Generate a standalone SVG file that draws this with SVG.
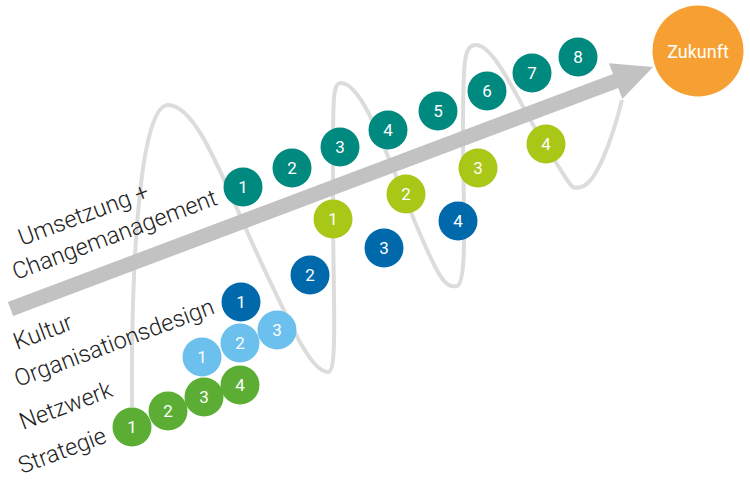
<svg xmlns="http://www.w3.org/2000/svg" width="750" height="494" viewBox="0 0 750 494">
<style>
.lbl{font-family:Roboto,"Liberation Sans",sans-serif;font-weight:300;font-size:23.5px;fill:#222222}
.num{font-family:Roboto,"Liberation Sans",sans-serif;font-size:17px;fill:#ffffff;text-anchor:middle;dominant-baseline:central}
.teal{fill:#00897f}.lime{fill:#a9c716}.dblue{fill:#0069ac}.lblue{fill:#6bc0ed}.green{fill:#5bae33}
</style>
<rect width="750" height="494" fill="#ffffff"/>
<g id="connectors">
<path id="wave" d="M132,407 C131,260 140,105 168,105 C198,105 225,185 260,260 S312,372 328,372 C338,372 333,300 333,200 S332,83 341,83 C362,83 385,150 412,215 S445,288 457,286 C468,283 463,200 463,130 S464,45 476,45 C496,45 522,110 548,150 S570,189 581,187 C596,184 612,140 622,100" fill="none" stroke="#dcdcdc" stroke-width="4"/>
<g id="arrow">
<line x1="10.5" y1="309" x2="617" y2="80.5" stroke="#c2c2c2" stroke-width="15"/>
<polygon points="653,67 608.9,63.3 622.3,98.9" fill="#c2c2c2"/>
</g>
</g>
<g id="labels">
<text class="lbl" transform="translate(22,246) rotate(-20.5)">Umsetzung +</text>
<text class="lbl" transform="translate(16,280) rotate(-20.5)">Changemanagement</text>
<text class="lbl" transform="translate(17,350) rotate(-20.5)">Kultur</text>
<text class="lbl" transform="translate(18,387) rotate(-20.5)">Organisationsdesign</text>
<text class="lbl" transform="translate(23,430) rotate(-20.5)">Netzwerk</text>
<text class="lbl" transform="translate(22,474) rotate(-20.5)">Strategie</text>
</g>
<g id="zukunft"><circle cx="698" cy="51" r="45.5" fill="#f6a033"/><text class="num" x="698" y="51" style="font-size:18px">Zukunft</text></g>
<g id="umsetzung">
<g id="u1"><circle class="teal" cx="243" cy="187" r="19.5"/><text class="num" x="243" y="187">1</text></g>
<g id="u2"><circle class="teal" cx="292" cy="168" r="19.5"/><text class="num" x="292" y="168">2</text></g>
<g id="u3"><circle class="teal" cx="340" cy="147" r="19.5"/><text class="num" x="340" y="147">3</text></g>
<g id="u4"><circle class="teal" cx="388" cy="130" r="19.5"/><text class="num" x="388" y="130">4</text></g>
<g id="u5"><circle class="teal" cx="438" cy="111" r="19.5"/><text class="num" x="438" y="111">5</text></g>
<g id="u6"><circle class="teal" cx="487" cy="91" r="19.5"/><text class="num" x="487" y="91">6</text></g>
<g id="u7"><circle class="teal" cx="532" cy="73" r="19.5"/><text class="num" x="532" y="73">7</text></g>
<g id="u8"><circle class="teal" cx="578" cy="57" r="19.5"/><text class="num" x="578" y="57">8</text></g>
</g>
<g id="lime">
<g id="l1"><circle class="lime" cx="333" cy="219" r="19.5"/><text class="num" x="333" y="219">1</text></g>
<g id="l2"><circle class="lime" cx="406" cy="194" r="19.5"/><text class="num" x="406" y="194">2</text></g>
<g id="l3"><circle class="lime" cx="478" cy="168" r="19.5"/><text class="num" x="478" y="168">3</text></g>
<g id="l4"><circle class="lime" cx="546" cy="144" r="19.5"/><text class="num" x="546" y="144">4</text></g>
</g>
<g id="kultur">
<g id="k1"><circle class="dblue" cx="241" cy="302" r="19.5"/><text class="num" x="241" y="302">1</text></g>
<g id="k2"><circle class="dblue" cx="310" cy="275" r="19.5"/><text class="num" x="310" y="275">2</text></g>
<g id="k3"><circle class="dblue" cx="384" cy="248" r="19.5"/><text class="num" x="384" y="248">3</text></g>
<g id="k4"><circle class="dblue" cx="458" cy="221" r="19.5"/><text class="num" x="458" y="221">4</text></g>
</g>
<g id="organisation">
<g id="o1"><circle class="lblue" cx="202" cy="357" r="19.5"/><text class="num" x="202" y="357">1</text></g>
<g id="o2"><circle class="lblue" cx="240" cy="343" r="19.5"/><text class="num" x="240" y="343">2</text></g>
<g id="o3"><circle class="lblue" cx="277" cy="330" r="19.5"/><text class="num" x="277" y="330">3</text></g>
</g>
<g id="strategie">
<g id="s1"><circle class="green" cx="132" cy="427" r="19.5"/><text class="num" x="132" y="427">1</text></g>
<g id="s2"><circle class="green" cx="168" cy="411" r="19.5"/><text class="num" x="168" y="411">2</text></g>
<g id="s3"><circle class="green" cx="204" cy="397" r="19.5"/><text class="num" x="204" y="397">3</text></g>
<g id="s4"><circle class="green" cx="240" cy="385" r="19.5"/><text class="num" x="240" y="385">4</text></g>
</g>
</svg>
